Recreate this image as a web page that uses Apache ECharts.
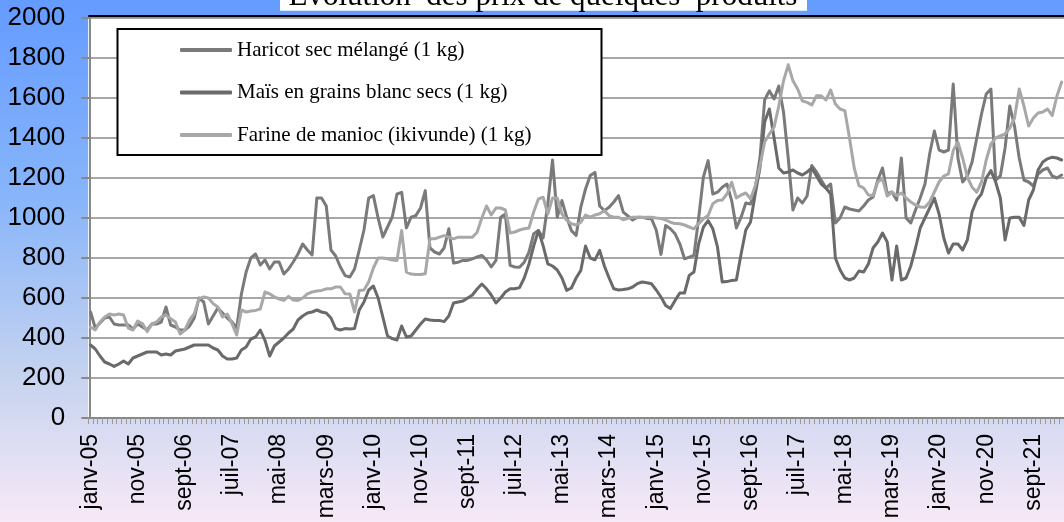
<!DOCTYPE html>
<html><head><meta charset="utf-8">
<script src="https://cdn.jsdelivr.net/npm/echarts/dist/echarts.min.js"></script>
<style>
html,body{margin:0;padding:0;}
#c{width:1064px;height:522px;background:linear-gradient(to bottom,#649bff 0%,#88b5fa 38%,#c6d3ef 72%,#f7e9f7 100%);}
</style></head><body><div id="c"></div>
<script>
const monthNames = ['janv','févr','mars','avr','mai','juin','juil','août','sept','oct','nov','déc'];
const firstYear = 5;
const nMonths = 207;
const categories = [];
for (let i = 0; i < nMonths; i++) {
  const y = firstYear + Math.floor(i / 12);
  categories.push(monthNames[i % 12] + '-' + (y < 10 ? '0' + y : '' + y));
}
const seriesNames = ['Haricot sec mélangé (1 kg)', 'Maïs en grains blanc secs (1 kg)', 'Farine de manioc (ikivunde) (1 kg)'];
const titleText = 'Évolution  des prix de quelques  produits';

const haricot = [
530,450,475,500,505,470,465,465,465,445,
470,455,440,470,470,480,555,465,455,440,
440,460,500,600,580,470,510,550,525,500,
480,450,620,730,800,820,765,790,745,780,
780,720,745,780,820,870,840,815,1100,1100,
1060,840,810,755,712,705,745,840,940,1100,
1112,1000,905,955,1005,1120,1128,950,1004,1012,
1050,1137,850,830,820,850,946,775,779,788,
788,796,805,813,790,755,788,1004,1020,763,
755,754,779,829,921,937,900,1070,1290,1004,
1087,1004,937,913,1054,1145,1212,1228,1060,1037,
1054,1080,1112,1029,1010,990,1004,1004,998,996,
940,818,962,946,921,871,796,804,813,1000,
1204,1287,1120,1129,1154,1170,1087,950,1004,1075,
1070,1150,1300,1590,1636,1595,1660,1530,1300,1040,
1100,1075,1110,1262,1230,1190,1150,1170,975,1000,
1055,1045,1040,1035,1060,1090,1105,1190,1250,1120,
1130,1090,1300,1000,975,1040,1100,1170,1320,1435,
1340,1330,1340,1670,1300,1180,1210,1280,1400,1520,
1620,1645,1190,1210,1350,1560,1460,1300,1190,1180,
1160,1220,1240,1250,1210,1200,1215];

const mais = [
365,345,310,280,270,258,270,285,270,300,
310,320,330,330,330,315,320,315,335,340,
345,355,365,365,365,365,350,340,310,295,
295,300,340,355,395,405,440,388,310,360,
380,400,425,445,490,510,525,530,540,530,
525,500,447,440,447,445,448,540,580,640,
660,600,505,410,397,390,460,405,410,440,
470,495,490,488,488,482,510,575,580,585,
600,615,645,670,646,615,575,600,630,646,
646,652,700,770,860,937,862,771,760,740,
700,638,650,700,738,860,800,791,838,760,
700,646,640,642,646,655,672,680,676,671,
640,605,563,547,588,625,625,713,730,871,
954,987,946,854,680,682,688,690,820,940,
980,1120,1250,1480,1545,1400,1250,1225,1230,1240,
1225,1215,1230,1250,1210,1170,1150,1120,800,740,
700,690,700,735,730,770,850,880,925,880,
690,860,690,700,760,850,950,1000,1050,1100,
1020,900,825,870,870,840,890,1030,1090,1121,
1200,1237,1180,1100,890,1000,1004,1004,963,1090,
1140,1240,1280,1296,1304,1300,1290];

const farine = [
455,440,480,505,520,515,520,515,450,440,
485,472,432,470,480,505,514,497,480,420,
440,490,522,597,605,600,572,555,505,520,
472,415,540,530,535,538,545,630,621,605,
595,588,608,590,588,600,621,630,635,638,
646,646,655,655,621,620,530,638,640,680,
750,800,800,796,790,788,937,729,720,718,
718,721,896,896,904,912,904,896,904,904,
904,904,929,1000,1060,1015,1050,1050,1040,925,
930,940,946,950,1030,1095,1104,1020,1100,1100,
1020,990,971,965,979,1015,1004,1015,1021,1037,
1012,1004,1004,991,998,1004,1004,1002,1004,1004,
1000,998,990,979,972,971,965,955,946,971,
996,1012,1071,1087,1090,1120,1179,1100,1115,1125,
1096,1160,1260,1380,1420,1454,1560,1686,1766,1686,
1645,1585,1578,1565,1611,1611,1590,1640,1570,1545,
1537,1400,1250,1162,1150,1115,1112,1180,1196,1110,
1130,1112,1125,1100,1080,1065,1055,1054,1080,1130,
1180,1210,1221,1337,1379,1300,1204,1154,1129,1180,
1290,1370,1400,1410,1420,1450,1500,1645,1560,1460,
1500,1525,1530,1545,1512,1610,1680];

const seriesData = [haricot, mais, farine];
const seriesColors = ['#7a7a7a', '#6a6a6a', '#a8a8a8'];
const bandWidth = 4.77;

const chart = echarts.init(document.getElementById('c'), null, {renderer: 'canvas'});
chart.setOption({
  animation: false,
  backgroundColor: 'transparent',
  grid: {
    left: 88.2, top: 18, height: 400, width: bandWidth * nMonths,
    show: true, backgroundColor: '#ffffff', borderWidth: 0
  },
  xAxis: {
    type: 'category', data: categories, boundaryGap: true,
    axisLine: {lineStyle: {color: '#888888', width: 2}},
    axisTick: {show: true, interval: 0, length: 6, lineStyle: {color: '#999999', width: 1}},
    axisLabel: {interval: 9, rotate: 90, margin: 16, fontSize: 23, color: '#000',
      fontFamily: 'Liberation Sans'},
    splitLine: {show: false}
  },
  yAxis: {
    type: 'value', min: 0, max: 2000, interval: 200, offset: -1.1,
    axisLine: {show: true, lineStyle: {color: '#888888', width: 2}},
    axisTick: {show: true, length: 8, lineStyle: {color: '#888888', width: 2}},
    axisLabel: {fontSize: 26, color: '#000', margin: 24, fontFamily: 'Liberation Sans',
      formatter: function (v) { return String(v); }},
    splitLine: {show: true, lineStyle: {color: '#8a8a8a', width: 1.5}}
  },
  legend: {
    orient: 'vertical', left: 180, top: 38, padding: 0, itemGap: 18.5,
    itemWidth: 52, itemHeight: 4, icon: 'roundRect', z: 20,
    textStyle: {fontFamily: 'Liberation Serif', fontSize: 21, color: '#000', lineHeight: 24},
    data: seriesNames
  },
  graphic: [
    {type: 'rect', z: 10, shape: {x: 280, y: -5, width: 527, height: 15.7}, style: {fill: '#ffffff'}},
    {type: 'text', z: 11, x: 543, y: -3, style: {text: titleText, fontSize: 31,
      fontFamily: 'Liberation Serif', fill: '#000', align: 'center', verticalAlign: 'middle'}},
    {type: 'line', z: 10, shape: {x1: 88.3, y1: 16, x2: 1064, y2: 16}, style: {stroke: '#000', lineWidth: 2}},
    {type: 'rect', z: 10, shape: {x: 117.5, y: 29, width: 484, height: 126},
      style: {fill: '#ffffff', stroke: '#000', lineWidth: 2}}
  ],
  series: seriesData.map((d, k) => ({
    name: seriesNames[k], type: 'line', data: d, showSymbol: false, symbol: 'none',
    color: seriesColors[k], lineStyle: {width: 3, color: seriesColors[k], join: 'round', cap: 'round'}
  }))
});
</script></body></html>
